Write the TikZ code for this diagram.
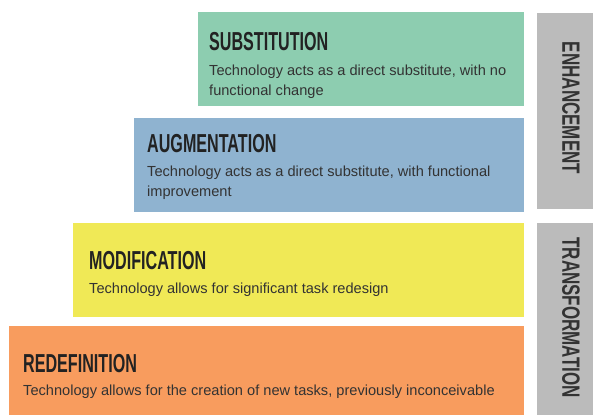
\documentclass[tikz,border=0pt]{standalone}
\usepackage{fontspec}
\setmainfont{Liberation Sans}
\newfontfamily\bodyfont{Liberation Sans}
\newfontfamily\titlefont[FakeStretch=0.62]{Liberation Sans}
\newfontfamily\sidefont[FakeStretch=0.68]{Liberation Sans}
\definecolor{subc}{HTML}{8DCDB0}
\definecolor{augc}{HTML}{8FB3D0}
\definecolor{modc}{HTML}{F0E956}
\definecolor{redc}{HTML}{F89C5E}
\definecolor{barc}{HTML}{BBBBBB}
\definecolor{titc}{HTML}{222222}
\definecolor{bodc}{HTML}{333333}
\tikzset{
  ttl/.style={anchor=base west, inner sep=0pt, text=titc, font=\titlefont\bfseries\fontsize{26}{26}\selectfont},
  bdy/.style={anchor=base west, inner sep=0pt, text=bodc, align=left, font=\bodyfont\fontsize{14.6}{20}\selectfont},
  side/.style={inner sep=0pt, text=bodc, rotate=-90, font=\sidefont\bfseries\fontsize{25}{25}\selectfont}
}
\begin{document}
\begin{tikzpicture}[x=1pt,y=-1pt]
\useasboundingbox (0,0) rectangle (593,415);
\fill[white] (0,0) rectangle (593,415);
% boxes
\fill[subc] (198,12) rectangle (524,106);
\fill[augc] (134,118) rectangle (524,212);
\fill[modc] (73,223) rectangle (524,317);
\fill[redc] (9,326) rectangle (524,415);
\fill[barc] (537,13) rectangle (593,209);
\fill[barc] (537,223) rectangle (593,415);
% texts
\node[ttl] (t1) at (209,50) {SUBSTITUTION};
\node[bdy] (b1) at (209,95) {Technology acts as a direct substitute, with no\\functional change};
\node[ttl] (t2) at (147,152) {AUGMENTATION};
\node[bdy] (b2) at (147,196) {Technology acts as a direct substitute, with functional\\improvement};
\node[ttl] (t3) at (89,269) {MODIFICATION};
\node[bdy] (b3) at (89,293) {Technology allows for significant task redesign};
\node[ttl] (t4) at (23,372) {REDEFINITION};
\node[bdy] (b4) at (23,395) {Technology allows for the creation of new tasks, previously inconceivable};
\node[side] (s1) at (571,108) {ENHANCEMENT};
\node[side] (s2) at (571,317.5) {TRANSFORMATION};
\end{tikzpicture}
\end{document}
